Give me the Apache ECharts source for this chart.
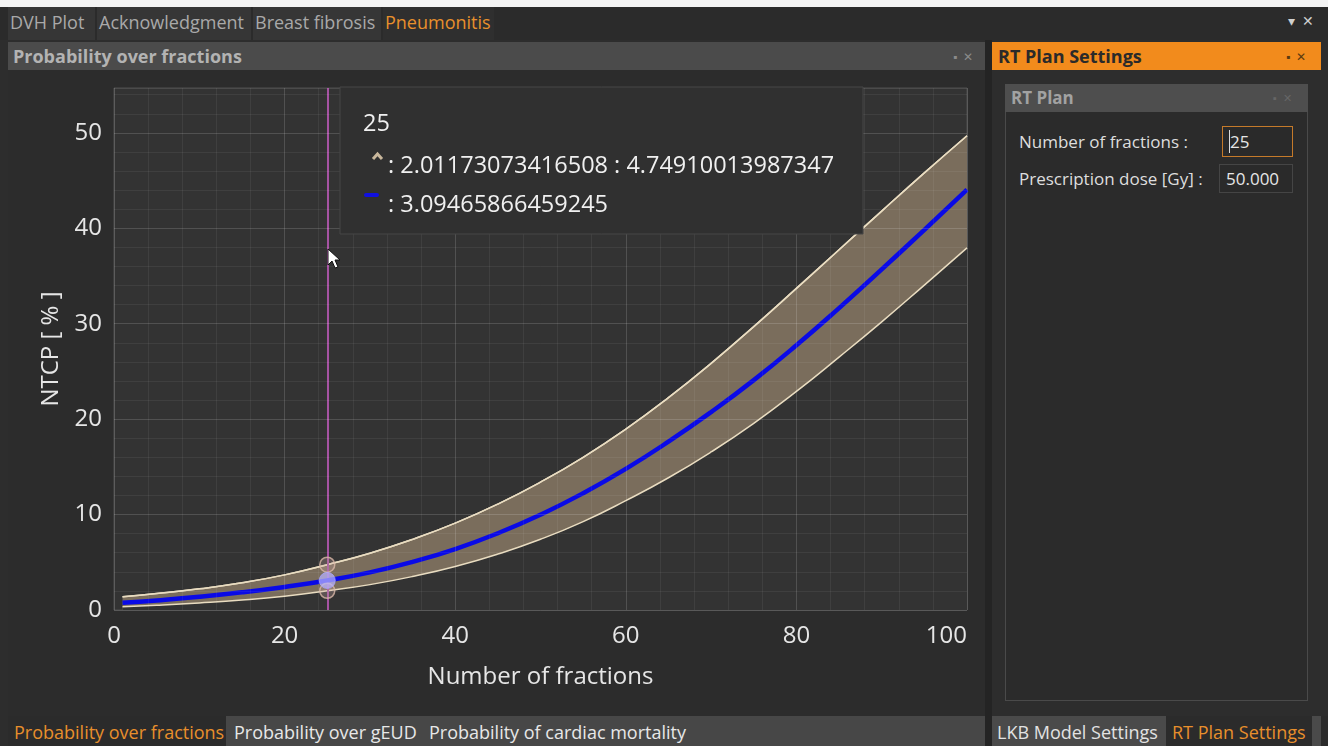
<!DOCTYPE html>
<html>
<head>
<meta charset="utf-8">
<script src="https://cdn.jsdelivr.net/npm/echarts@6/dist/echarts.min.js"></script>
<style>
  html, body { margin: 0; padding: 0; width: 1328px; height: 746px; overflow: hidden; background: #2d2d2d; font-family: "Open Sans", "Noto Sans", sans-serif; }
  .abs { position: absolute; box-sizing: border-box; white-space: nowrap; }
  .tab { position: absolute; top: 7px; height: 33px; line-height: 31px; font-size: 18px; color: #a9a9a9; background: #363636; padding-left: 2px; box-sizing: border-box; }
  .lbl { position: absolute; font-size: 17px; color: #dedede; line-height: 20px; }
  .inp { position: absolute; box-sizing: border-box; font-size: 17px; color: #e6e6e6; background: #2a2a2a; padding-left: 6px; }
  .t18 { font-size: 18px; line-height: 24px; }
</style>
</head>
<body>
<div class="abs" style="left:0;top:0;width:1328px;height:7px;background:#f4f4f4;"></div>
<div class="abs" style="left:0;top:7px;width:1328px;height:33px;background:#2b2b2b;"></div>
<div class="tab" style="left:8px;width:87px;">DVH Plot</div>
<div class="tab" style="left:97px;width:154px;">Acknowledgment</div>
<div class="tab" style="left:253px;width:128px;">Breast fibrosis</div>
<div class="tab" style="left:383px;width:111px;color:#e8902c;background:#2f2f2f;">Pneumonitis</div>
<div class="abs" style="left:1288px;top:11px;font-size:14px;color:#cfcfcf;">▾&nbsp;&nbsp;✕</div>

<!-- left panel -->
<div class="abs" style="left:8px;top:42px;width:977px;height:28px;background:#4b4b4b;"></div>
<div class="abs t18" style="left:13px;top:44px;font-weight:bold;color:#b3b3b3;">Probability over fractions</div>
<div class="abs" style="left:953px;top:48px;font-size:12px;color:#8a8a8a;">▪&nbsp;&nbsp;✕</div>
<div class="abs" style="left:8px;top:70px;width:977px;height:646px;background:#2c2c2c;"></div>
<div class="abs" style="left:8px;top:716px;width:977px;height:30px;background:#474747;"></div>
<div class="abs" style="left:8px;top:716px;width:218px;height:30px;background:#2b2b2b;"></div>
<div class="abs t18" style="left:14px;top:720px;color:#e88f2c;">Probability over fractions</div>
<div class="abs t18" style="left:234px;top:720px;color:#e8e8e8;">Probability over gEUD</div>
<div class="abs t18" style="left:429px;top:720px;color:#e8e8e8;">Probability of cardiac mortality</div>

<div class="abs" style="left:985px;top:40px;width:7px;height:706px;background:#242424;"></div>

<!-- right panel -->
<div class="abs" style="left:992px;top:42px;width:329px;height:28px;background:#f28b1c;"></div>
<div class="abs t18" style="left:998px;top:44px;font-weight:bold;color:#2a2a2a;">RT Plan Settings</div>
<div class="abs" style="left:1286px;top:48px;font-size:12px;color:#5a3a10;">▪&nbsp;&nbsp;✕</div>
<div class="abs" style="left:992px;top:70px;width:329px;height:646px;background:#2d2d2d;"></div>
<div class="abs" style="left:1005px;top:84px;width:303px;height:617px;background:#2b2b2b;border:1px solid #4a4a4a;"></div>
<div class="abs" style="left:1005px;top:84px;width:303px;height:28px;background:#4e4e4e;"></div>
<div class="abs" style="left:1011px;top:86px;font-size:17px;font-weight:bold;color:#a2a2a2;line-height:24px;">RT Plan</div>
<div class="abs" style="left:1273px;top:90px;font-size:11px;color:#666;">▪&nbsp;&nbsp;✕</div>
<div class="lbl" style="left:1019px;top:132px;">Number of fractions :</div>
<div class="inp" style="left:1222px;top:126px;width:71px;height:31px;border:1px solid #c57a2a;line-height:29px;"><span style="border-left:1px solid #ddd;"></span>25</div>
<div class="lbl" style="left:1019px;top:169px;">Prescription dose [Gy] :</div>
<div class="inp" style="left:1219px;top:164px;width:74px;height:29px;border:1px solid #454545;line-height:27px;">50.000</div>
<div class="abs" style="left:992px;top:716px;width:336px;height:30px;background:#2b2b2b;"></div>
<div class="abs" style="left:992px;top:716px;width:174px;height:30px;background:#4a4a4a;"></div>
<div class="abs t18" style="left:997px;top:720px;color:#e2e2e2;">LKB Model Settings</div>
<div class="abs t18" style="left:1172px;top:720px;color:#e88f2c;">RT Plan Settings</div>
<div class="abs" style="left:1312px;top:716px;width:9px;height:30px;background:#4a4a4a;"></div>

<div id="chart" class="abs" style="left:8px;top:70px;width:977px;height:645px;"></div>

<script>
// ---- data ----
const fractions = [1, 5, 10, 15, 20, 25, 30, 35, 40, 45, 50, 55, 60, 65, 70, 75, 80, 85, 90, 95, 100];
const ntcpMean  = [0.75, 1.0, 1.38, 1.85, 2.42, 3.09465866459245, 3.94, 5.04, 6.39, 8.04, 9.99, 12.24, 14.79, 17.64, 20.74, 24.09, 27.74, 31.64, 35.69, 39.84, 44.04];
const ntcpLower = [0.35, 0.5, 0.74, 1.04, 1.45, 2.01173073416508, 2.66, 3.51, 4.56, 5.86, 7.41, 9.26, 11.46, 13.86, 16.56, 19.56, 22.9, 26.5, 30.2, 34.05, 37.95];
const ntcpUpper = [1.39, 1.72, 2.22, 2.85, 3.68, 4.74910013987347, 5.95, 7.4, 9.1, 11.1, 13.4, 16.0, 18.95, 22.25, 25.85, 29.7, 33.7, 37.75, 41.8, 45.8, 49.7];
const selectedFraction = 25;
const xTicks = [0, 20, 40, 60, 80, 100];
const yTicks = [0, 10, 20, 30, 40, 50];

const idx = fractions.indexOf(selectedFraction);
const selLower = ntcpLower[idx], selUpper = ntcpUpper[idx], selMean = ntcpMean[idx];

const lowerPts = fractions.map((f, i) => [f, ntcpLower[i]]);
const upperPts = fractions.map((f, i) => [f, ntcpUpper[i]]);
const meanPts  = fractions.map((f, i) => [f, ntcpMean[i]]);

const FONT = '"Open Sans", "Noto Sans", sans-serif';
const MAJOR = 'rgba(255,255,255,0.15)', MINOR = 'rgba(255,255,255,0.06)';
const PLOT_BG = '#333333';

const chart = echarts.init(document.getElementById('chart'), null, { renderer: 'canvas' });
chart.setOption({
  animation: false,
  backgroundColor: 'transparent',
  grid: { left: 106, right: 18, top: 18, bottom: 105, show: true, backgroundColor: PLOT_BG, borderColor: '#4e4e4e', borderWidth: 1 },
  xAxis: {
    type: 'value', min: 0, max: 100, interval: 4, z: 10,
    name: 'Number of fractions', nameLocation: 'middle', nameGap: 55,
    nameTextStyle: { color: '#e6e6e6', fontSize: 24, fontFamily: FONT },
    axisLine: { show: false }, axisTick: { show: false },
    axisLabel: { interval: 0, color: '#e6e6e6', fontSize: 24, fontFamily: FONT, margin: 14,
      alignMaxLabel: 'right',
      formatter: v => xTicks.indexOf(v) >= 0 ? String(v) : '' },
    splitLine: { show: true, lineStyle: { color: [MAJOR, MINOR, MINOR, MINOR, MINOR], width: 1 } }
  },
  yAxis: {
    type: 'value', min: 0, max: 54.7, interval: 2, z: 10,
    name: 'NTCP [ % ]', nameLocation: 'middle', nameGap: 50,
    nameTextStyle: { color: '#e6e6e6', fontSize: 24, fontFamily: FONT },
    axisLine: { show: false }, axisTick: { show: false },
    axisLabel: { interval: 0, color: '#e6e6e6', fontSize: 24, fontFamily: FONT, margin: 12,
      formatter: v => yTicks.indexOf(v) >= 0 ? String(v) : '' },
    splitLine: { show: true, lineStyle: { color: [MAJOR, MINOR, MINOR, MINOR, MINOR], width: 1 } }
  },
  series: [
    { name: 'upper band', type: 'line', data: upperPts, smooth: true, symbol: 'none',
      lineStyle: { color: '#e9dcc0', width: 1.5 }, areaStyle: { color: '#7a6d5c', opacity: 1, origin: 'start' }, z: 2 },
    { name: 'lower band', type: 'line', data: lowerPts, smooth: true, symbol: 'none',
      lineStyle: { color: '#e9dcc0', width: 1.5 }, areaStyle: { color: PLOT_BG, opacity: 1, origin: 'start' }, z: 3 },
    { name: 'upper', type: 'line', data: upperPts, smooth: true, symbol: 'none',
      lineStyle: { color: '#e9dcc0', width: 1.5 }, z: 4,
      markLine: { silent: true, symbol: 'none', label: { show: false },
        lineStyle: { color: '#a653a3', width: 2, type: 'solid' },
        data: [{ xAxis: selectedFraction }] } },
    { name: 'mean', type: 'line', data: meanPts, smooth: true, symbol: 'none',
      lineStyle: { color: '#0a0ae6', width: 4.5 }, z: 5 },
    { name: 'bounds marker', type: 'scatter', data: [[selectedFraction, selLower], [selectedFraction, selUpper]],
      symbolSize: 15, itemStyle: { color: 'rgba(205,170,165,0.35)', borderColor: '#d8b6a8', borderWidth: 1.5 }, z: 6 },
    { name: 'mean marker', type: 'scatter', data: [[selectedFraction, selMean]],
      symbolSize: 16, itemStyle: { color: 'rgba(185,180,255,0.9)', borderColor: '#a9a4ff', borderWidth: 1 }, z: 7 }
  ],
  graphic: [
    { type: 'rect', shape: { x: 332, y: 17, width: 523, height: 147 }, style: { fill: '#303030', stroke: '#474747', lineWidth: 1 }, z: 100 },
    { type: 'text', x: 355, y: 54, style: { text: String(selectedFraction), fill: '#f0f0f0', font: '23.5px ' + FONT, verticalAlign: 'middle' }, z: 101 },
    { type: 'polyline', shape: { points: [[365, 89], [369.5, 84], [374, 89]] }, style: { stroke: '#c9b79c', lineWidth: 3, fill: null }, z: 101 },
    { type: 'text', x: 380, y: 96, style: { text: ': ' + selLower + ' : ' + selUpper, fill: '#f0f0f0', font: '23.5px ' + FONT, verticalAlign: 'middle' }, z: 101 },
    { type: 'rect', shape: { x: 356, y: 123, width: 15, height: 4, r: 2 }, style: { fill: '#1010e0' }, z: 101 },
    { type: 'text', x: 380, y: 135, style: { text: ': ' + selMean, fill: '#f0f0f0', font: '23.5px ' + FONT, verticalAlign: 'middle' }, z: 101 },
    { type: 'polygon', shape: { points: [[320, 179], [320, 195], [324, 191], [327, 198], [330, 197], [327, 190], [332, 190]] },
      style: { fill: '#ffffff', stroke: '#111111', lineWidth: 1 }, z: 102 }
  ]
});
</script>
</body>
</html>
